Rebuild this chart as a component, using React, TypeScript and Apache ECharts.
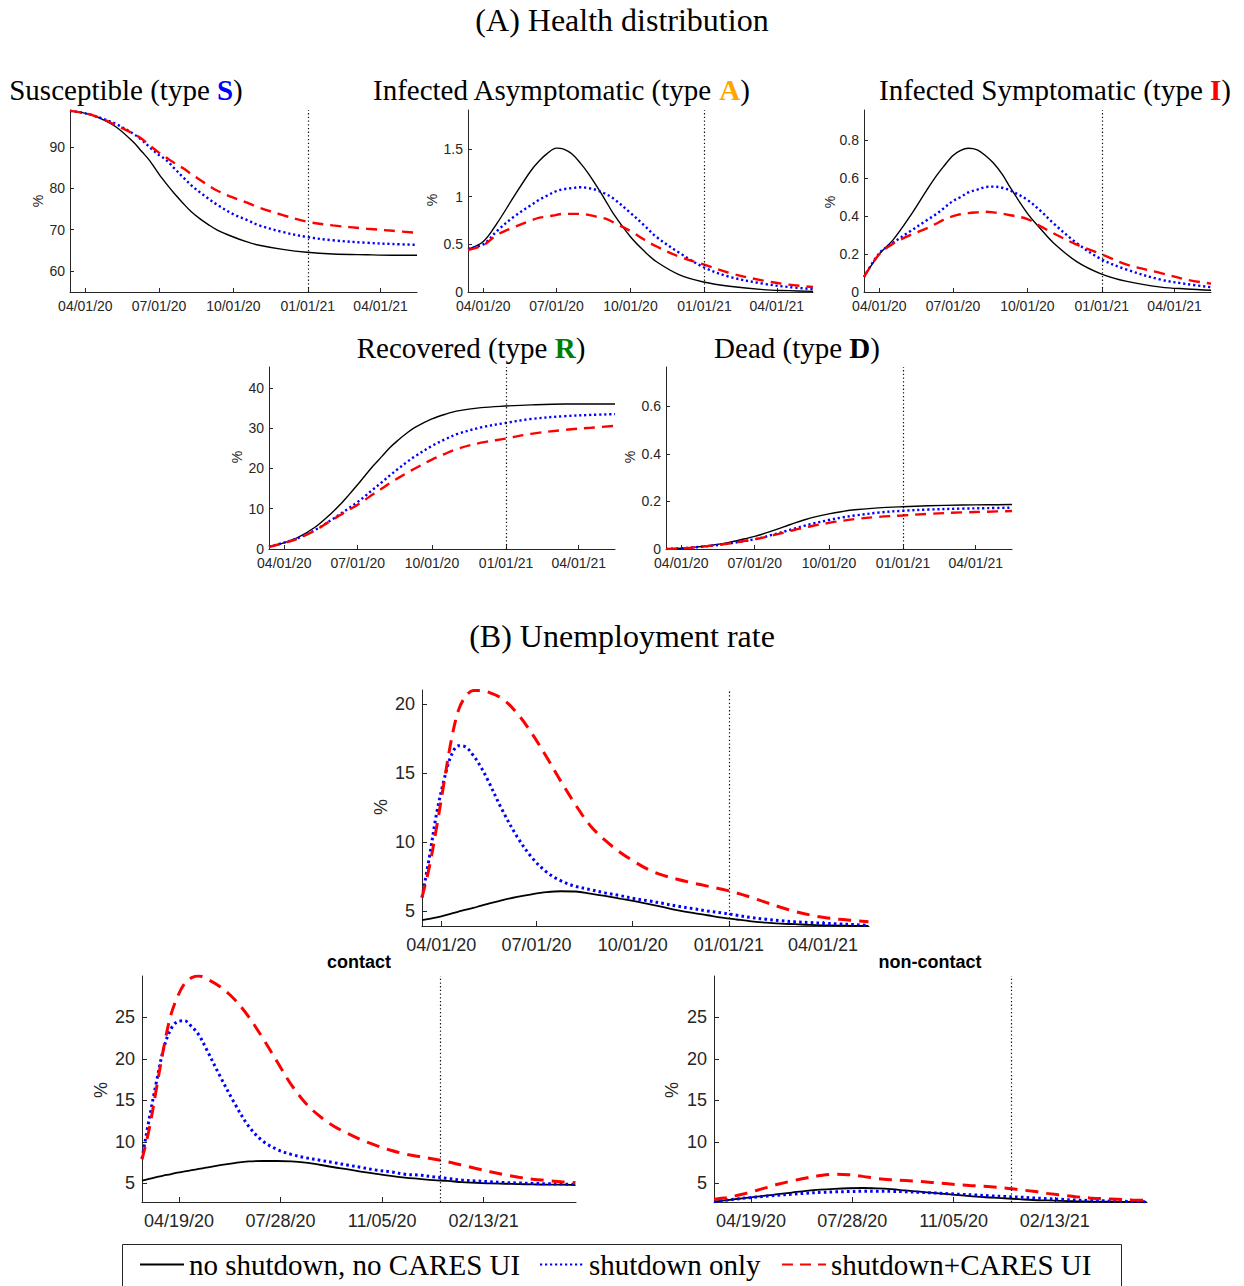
import React, { useEffect, useRef } from "react";
import * as echarts from "echarts";

// ---------- DATA ----------
const SERIES_NAMES = ["no shutdown, no CARES UI", "shutdown only", "shutdown+CARES UI"];

// days relative to 04/01/20
const HEALTH_DAYS = [-19, 0, 17, 38, 59, 70, 79, 91, 100, 110, 121, 131, 141, 152, 162, 183, 200, 215, 244, 274, 306, 348, 380, 410];

const S_BASE = [98.7, 98.1, 97.0, 94.8, 91.2, 88.8, 86.8, 83.4, 81.1, 78.7, 76.3, 74.3, 72.7, 71.2, 70.0, 68.2, 67.0, 66.2, 65.2, 64.5, 64.1, 63.9, 63.8, 63.8];
const S_SHUT = [98.7, 98.1, 97.1, 95.5, 93.2, 91.6, 90.0, 88.0, 86.8, 84.8, 82.6, 80.7, 79.1, 77.5, 76.1, 73.7, 72.3, 71.0, 69.4, 68.2, 67.4, 66.8, 66.5, 66.3];
const S_CARES = [98.7, 98.1, 97.1, 95.2, 93.2, 91.9, 90.4, 88.6, 87.4, 86.1, 84.8, 83.4, 82.1, 80.7, 79.5, 77.7, 76.5, 75.3, 73.5, 71.9, 71.0, 70.2, 69.7, 69.2];

const A_BASE = [0.45, 0.53, 0.72, 1.0, 1.27, 1.38, 1.45, 1.51, 1.5, 1.45, 1.35, 1.24, 1.11, 0.96, 0.82, 0.58, 0.43, 0.32, 0.18, 0.105, 0.06, 0.025, 0.014, 0.007];
const A_SHUT = [0.455, 0.5, 0.64, 0.79, 0.91, 0.97, 1.01, 1.06, 1.08, 1.09, 1.1, 1.09, 1.07, 1.03, 0.98, 0.83, 0.7, 0.58, 0.41, 0.26, 0.16, 0.087, 0.052, 0.03];
const A_CARES = [0.44, 0.49, 0.6, 0.68, 0.75, 0.78, 0.79, 0.81, 0.82, 0.82, 0.82, 0.81, 0.79, 0.77, 0.73, 0.64, 0.55, 0.48, 0.37, 0.29, 0.2, 0.12, 0.077, 0.052];

const I_BASE = [0.079, 0.2, 0.275, 0.4, 0.54, 0.61, 0.66, 0.72, 0.746, 0.758, 0.75, 0.72, 0.68, 0.62, 0.55, 0.415, 0.33, 0.26, 0.16, 0.096, 0.056, 0.026, 0.016, 0.009];
const I_SHUT = [0.079, 0.205, 0.26, 0.32, 0.38, 0.41, 0.44, 0.48, 0.5, 0.525, 0.54, 0.553, 0.556, 0.55, 0.535, 0.486, 0.425, 0.363, 0.258, 0.174, 0.118, 0.065, 0.042, 0.025];
const I_CARES = [0.079, 0.2, 0.255, 0.3, 0.337, 0.36, 0.38, 0.4, 0.41, 0.416, 0.42, 0.423, 0.42, 0.413, 0.405, 0.385, 0.345, 0.31, 0.25, 0.2, 0.144, 0.1, 0.065, 0.044];

const R_BASE = [0.6, 1.6, 2.9, 5.4, 9.0, 11.2, 13.2, 16.0, 18.2, 20.6, 23.0, 25.2, 27.0, 28.8, 30.2, 32.3, 33.5, 34.3, 35.1, 35.5, 35.8, 36.0, 36.0, 36.0];
const R_SHUT = [0.6, 1.6, 2.7, 4.7, 7.3, 8.8, 10.0, 11.7, 13.1, 14.8, 16.6, 18.3, 19.9, 21.6, 23.0, 25.6, 27.3, 28.6, 30.2, 31.3, 32.3, 33.0, 33.3, 33.5];
const R_CARES = [0.5, 1.5, 2.6, 4.6, 7.2, 8.5, 9.6, 11.0, 12.2, 13.6, 15.0, 16.4, 17.6, 18.9, 20.0, 22.2, 23.7, 24.9, 26.4, 27.4, 28.6, 29.6, 30.1, 30.6];

const D_BASE = [0.0, 0.003, 0.008, 0.016, 0.028, 0.036, 0.043, 0.053, 0.062, 0.073, 0.086, 0.098, 0.11, 0.122, 0.132, 0.148, 0.158, 0.165, 0.173, 0.178, 0.182, 0.185, 0.186, 0.187];
const D_SHUT = [0.0, 0.003, 0.007, 0.014, 0.023, 0.029, 0.034, 0.041, 0.048, 0.057, 0.067, 0.077, 0.087, 0.097, 0.106, 0.122, 0.133, 0.141, 0.153, 0.161, 0.166, 0.17, 0.172, 0.174];
const D_CARES = [0.0, 0.003, 0.007, 0.014, 0.023, 0.029, 0.034, 0.041, 0.047, 0.055, 0.064, 0.072, 0.081, 0.089, 0.097, 0.11, 0.119, 0.126, 0.135, 0.141, 0.148, 0.154, 0.157, 0.16];

const UNEMP_DAYS = [-18.5, -11.5, -4.5, 2.5, 9.5, 16.5, 23.5, 30.5, 37.5, 44.5, 58.5, 72.5, 86.5, 100.5, 114.5, 128.5, 142.5, 156.5, 170.5, 184.5, 198.5, 212.5, 226.5, 240.5, 254.5, 268.5, 282.5, 296.5, 310.5, 324.5, 338.5, 352.5, 366.5, 380.5, 394.5, 408.5];

const U_BASE = [4.35, 4.44, 4.56, 4.69, 4.83, 4.98, 5.12, 5.24, 5.39, 5.53, 5.8, 6.04, 6.23, 6.38, 6.45, 6.43, 6.28, 6.11, 5.92, 5.73, 5.51, 5.29, 5.07, 4.88, 4.71, 4.54, 4.4, 4.27, 4.18, 4.1, 4.06, 4.01, 3.98, 3.96, 3.94, 3.94];
const U_SHUT = [6.0, 8.9, 12.1, 14.5, 16.3, 17.0, 16.9, 16.3, 15.5, 14.5, 12.3, 10.4, 8.9, 7.85, 7.2, 6.8, 6.57, 6.33, 6.14, 5.92, 5.75, 5.56, 5.36, 5.19, 5.02, 4.88, 4.71, 4.54, 4.42, 4.32, 4.23, 4.18, 4.13, 4.08, 4.03, 3.98];
const U_CARES = [6.0, 8.2, 11.1, 14.3, 17.4, 19.6, 20.6, 21.0, 21.0, 20.9, 20.4, 19.35, 17.9, 16.2, 14.4, 12.7, 11.2, 10.15, 9.3, 8.6, 8.0, 7.6, 7.3, 7.05, 6.82, 6.6, 6.33, 6.0, 5.64, 5.29, 4.98, 4.73, 4.54, 4.42, 4.33, 4.23];

const C_BASE = [5.35, 5.55, 5.75, 5.95, 6.1, 6.3, 6.45, 6.6, 6.75, 6.9, 7.2, 7.45, 7.65, 7.7, 7.7, 7.65, 7.5, 7.25, 6.95, 6.7, 6.4, 6.15, 5.9, 5.7, 5.55, 5.4, 5.3, 5.15, 5.08, 5.0, 4.96, 4.92, 4.88, 4.85, 4.85, 4.8];
const C_SHUT = [8.0, 12.7, 17.1, 21.1, 23.5, 24.5, 24.6, 23.9, 22.9, 21.3, 17.9, 14.7, 11.9, 10.1, 9.1, 8.5, 8.1, 7.8, 7.5, 7.2, 6.9, 6.6, 6.4, 6.1, 6.0, 5.8, 5.6, 5.4, 5.3, 5.2, 5.1, 5.05, 5.0, 4.96, 4.92, 4.9];
const C_CARES = [7.9, 11.5, 16.3, 21.1, 25.1, 27.5, 29.1, 29.8, 30.0, 29.7, 28.7, 27.2, 25.1, 22.5, 19.7, 16.9, 14.7, 13.1, 11.9, 11.0, 10.2, 9.55, 9.0, 8.55, 8.25, 7.95, 7.6, 7.2, 6.8, 6.4, 6.05, 5.75, 5.5, 5.35, 5.2, 5.1];

const N_BASE = [2.8, 2.9, 3.0, 3.1, 3.2, 3.3, 3.4, 3.5, 3.6, 3.7, 3.9, 4.1, 4.25, 4.35, 4.42, 4.45, 4.4, 4.3, 4.15, 4.0, 3.85, 3.7, 3.55, 3.4, 3.3, 3.2, 3.1, 3.0, 2.95, 2.9, 2.85, 2.82, 2.8, 2.78, 2.77, 2.76];
const N_SHUT = [2.8, 2.9, 3.0, 3.1, 3.2, 3.28, 3.36, 3.44, 3.5, 3.58, 3.7, 3.82, 3.92, 3.98, 4.02, 4.05, 4.06, 4.04, 4.0, 3.93, 3.85, 3.76, 3.68, 3.6, 3.5, 3.42, 3.35, 3.25, 3.16, 3.08, 3.0, 2.94, 2.9, 2.86, 2.82, 2.8];
const N_CARES = [3.1, 3.2, 3.3, 3.5, 3.7, 3.9, 4.15, 4.4, 4.65, 4.9, 5.3, 5.65, 5.95, 6.1, 6.05, 5.85, 5.6, 5.45, 5.35, 5.25, 5.1, 4.95, 4.8, 4.7, 4.6, 4.45, 4.25, 4.05, 3.8, 3.6, 3.4, 3.25, 3.15, 3.1, 3.0, 2.95];

const QUARTER_TICKS = [0, 91, 183, 275, 365];
const QUARTER_LABELS = ["04/01/20", "07/01/20", "10/01/20", "01/01/21", "04/01/21"];
const HUNDRED_TICKS = [18, 118, 218, 318];
const HUNDRED_LABELS = ["04/19/20", "07/28/20", "11/05/20", "02/13/21"];
const POLICY_END_DAY = 275;

// ---------- STYLE / LAYOUT ----------
const SERIF = "'Liberation Serif', 'Times New Roman', serif";
const SANS = "'Liberation Sans', Arial, Helvetica, sans-serif";
const AXIS_COLOR = "#262626";
const TITLE_SIZE = 29;
const HEADING_SIZE = 32;

const PANELS = [
  { grid: { left: 70, top: 110, width: 347, height: 182 }, days: HEALTH_DAYS, xmin: -19, xmax: 410, ymin: 54.9, ymax: 98.9, yticks: [60, 70, 80, 90], xticks: QUARTER_TICKS, xlabels: QUARTER_LABELS, data: [S_BASE, S_SHUT, S_CARES], big: false, pct: [38, 201] },
  { grid: { left: 468, top: 110, width: 345, height: 182 }, days: HEALTH_DAYS, xmin: -19, xmax: 410, ymin: 0, ymax: 1.91, yticks: [0, 0.5, 1, 1.5], xticks: QUARTER_TICKS, xlabels: QUARTER_LABELS, data: [A_BASE, A_SHUT, A_CARES], big: false, pct: [432, 200] },
  { grid: { left: 864, top: 110, width: 347, height: 182 }, days: HEALTH_DAYS, xmin: -19, xmax: 410, ymin: 0, ymax: 0.96, yticks: [0, 0.2, 0.4, 0.6, 0.8], xticks: QUARTER_TICKS, xlabels: QUARTER_LABELS, data: [I_BASE, I_SHUT, I_CARES], big: false, pct: [830, 202] },
  { grid: { left: 269, top: 367, width: 346, height: 182 }, days: HEALTH_DAYS, xmin: -19, xmax: 410, ymin: 0, ymax: 45.2, yticks: [0, 10, 20, 30, 40], xticks: QUARTER_TICKS, xlabels: QUARTER_LABELS, data: [R_BASE, R_SHUT, R_CARES], big: false, pct: [237, 457] },
  { grid: { left: 666, top: 367, width: 346, height: 182 }, days: HEALTH_DAYS, xmin: -19, xmax: 410, ymin: 0, ymax: 0.766, yticks: [0, 0.2, 0.4, 0.6], xticks: QUARTER_TICKS, xlabels: QUARTER_LABELS, data: [D_BASE, D_SHUT, D_CARES], big: false, pct: [630, 457] },
  { grid: { left: 422, top: 690, width: 447, height: 236 }, days: UNEMP_DAYS, xmin: -18.5, xmax: 409, ymin: 3.93, ymax: 21.04, yticks: [5, 10, 15, 20], xticks: QUARTER_TICKS, xlabels: QUARTER_LABELS, data: [U_BASE, U_SHUT, U_CARES], big: true, pct: [381, 807] },
  { grid: { left: 142, top: 976, width: 434, height: 226 }, days: UNEMP_DAYS, xmin: -18.5, xmax: 409, ymin: 2.76, ymax: 30, yticks: [5, 10, 15, 20, 25], xticks: HUNDRED_TICKS, xlabels: HUNDRED_LABELS, data: [C_BASE, C_SHUT, C_CARES], big: true, pct: [101, 1090] },
  { grid: { left: 714, top: 976, width: 433, height: 226 }, days: UNEMP_DAYS, xmin: -18.5, xmax: 409, ymin: 2.76, ymax: 30, yticks: [5, 10, 15, 20, 25], xticks: HUNDRED_TICKS, xlabels: HUNDRED_LABELS, data: [N_BASE, N_SHUT, N_CARES], big: true, pct: [672, 1090] },
];

function lineStyleFor(k: number, big: boolean): any {
  if (k === 0) return { color: "#000000", width: big ? 1.8 : 1.4, type: "solid" };
  if (k === 1) return { color: "#0000ff", width: big ? 3 : 2.4, type: big ? [2.6, 3.2] : [2.2, 2.8], cap: "butt" };
  return { color: "#ff0000", width: big ? 3 : 2.4, type: big ? [13, 8] : [11, 7], cap: "butt" };
}

function buildOption(): any {
  const grid: any[] = [];
  const xAxis: any[] = [];
  const yAxis: any[] = [];
  const series: any[] = [];
  const graphic: any[] = [];

  PANELS.forEach((p, i) => {
    const fs = p.big ? 18 : 14;
    grid.push({ ...p.grid, outerBoundsMode: "none", containLabel: false });
    const labelMap: Record<string, string> = {};
    p.xticks.forEach((t, j) => (labelMap[String(t)] = p.xlabels[j]));
    xAxis.push({
      type: "value",
      gridIndex: i,
      min: p.xmin,
      max: p.xmax,
      splitLine: { show: false },
      axisLine: { show: true, onZero: false, lineStyle: { color: AXIS_COLOR, width: 1 } },
      axisTick: { show: true, inside: true, length: p.big ? 5 : 4, customValues: p.xticks, lineStyle: { color: AXIS_COLOR } },
      axisLabel: {
        show: true,
        customValues: p.xticks,
        margin: p.big ? 10 : 7,
        color: AXIS_COLOR,
        fontFamily: SANS,
        fontSize: fs,
        formatter: (v: number) => labelMap[String(v)] ?? "",
      },
    });
    yAxis.push({
      type: "value",
      gridIndex: i,
      min: p.ymin,
      max: p.ymax,
      splitLine: { show: false },
      axisLine: { show: true, onZero: false, lineStyle: { color: AXIS_COLOR, width: 1 } },
      axisTick: { show: true, inside: true, length: p.big ? 5 : 4, customValues: p.yticks, lineStyle: { color: AXIS_COLOR } },
      axisLabel: { show: true, customValues: p.yticks, margin: p.big ? 7 : 5, color: AXIS_COLOR, fontFamily: SANS, fontSize: fs },
    });
    p.data.forEach((vals, k) => {
      const s: any = {
        name: SERIES_NAMES[k],
        type: "line",
        xAxisIndex: i,
        yAxisIndex: i,
        data: p.days.map((d, j) => [d, vals[j]]),
        symbol: "none",
        showSymbol: false,
        smooth: 0.35,
        lineStyle: lineStyleFor(k, p.big),
        itemStyle: { color: lineStyleFor(k, p.big).color },
        z: 2 + k,
        silent: true,
      };
      if (k === 0) {
        s.markLine = {
          silent: true,
          symbol: ["none", "none"],
          label: { show: false },
          lineStyle: { color: "#111111", width: 1.2, type: [1.3, 2.4] },
          data: [{ xAxis: POLICY_END_DAY }],
        };
      }
      series.push(s);
    });
    graphic.push({
      type: "text",
      x: p.pct[0],
      y: p.pct[1],
      rotation: Math.PI / 2,
      style: { text: "%", fontFamily: SANS, fontSize: fs, fill: AXIS_COLOR, align: "center", verticalAlign: "middle" },
    });
  });

  const titleText = (x: number, y: number, text: string, rich?: any, size = TITLE_SIZE) => ({
    type: "text",
    x,
    y,
    style: { text, fontFamily: SERIF, fontSize: size, fill: "#000", align: "center", verticalAlign: "middle", rich },
  });
  const richLetter = (color: string) => ({ fontFamily: SERIF, fontSize: TITLE_SIZE, fontWeight: "bold", fill: color });

  graphic.push(titleText(622, 20, "(A) Health distribution", undefined, HEADING_SIZE));
  graphic.push(titleText(126, 90, "Susceptible (type {s|S})", { s: richLetter("#0000ff") }));
  graphic.push(titleText(561, 90, "Infected Asymptomatic (type {a|A})", { a: richLetter("#ffa500") }));
  graphic.push(titleText(1055, 90, "Infected Symptomatic (type {i|I})", { i: richLetter("#ff0000") }));
  graphic.push(titleText(471, 348, "Recovered (type {r|R})", { r: richLetter("#008000") }));
  graphic.push(titleText(797, 348, "Dead (type {d|D})", { d: richLetter("#000000") }));
  graphic.push(titleText(622, 636, "(B) Unemployment rate", undefined, HEADING_SIZE));
  graphic.push({ type: "text", x: 359, y: 962, style: { text: "contact", fontFamily: SANS, fontSize: 18, fontWeight: "bold", fill: "#000", align: "center", verticalAlign: "middle" } });
  graphic.push({ type: "text", x: 930, y: 962, style: { text: "non-contact", fontFamily: SANS, fontSize: 18, fontWeight: "bold", fill: "#000", align: "center", verticalAlign: "middle" } });
  graphic.push({ type: "rect", z: 0, shape: { x: 122.5, y: 1244.5, width: 999, height: 60 }, style: { fill: "none", stroke: AXIS_COLOR, lineWidth: 1 } });

  const legendLefts = [139, 539, 781];
  const legend = SERIES_NAMES.map((n, i) => ({
    data: [n],
    left: legendLefts[i],
    top: 1250,
    padding: 0,
    itemWidth: 44,
    itemHeight: 14,
    selectedMode: false,
    itemStyle: { opacity: 0, borderWidth: 0 },
    textStyle: { fontFamily: SERIF, fontSize: TITLE_SIZE, color: "#000" },
  }));

  return { animation: false, backgroundColor: "#ffffff", grid, xAxis, yAxis, series, graphic, legend };
}

export default function App() {
  const ref = useRef<HTMLDivElement>(null);
  useEffect(() => {
    if (!ref.current) return;
    const chart = echarts.init(ref.current, null, { renderer: "svg" });
    chart.setOption(buildOption());
    return () => chart.dispose();
  }, []);
  return <div ref={ref} style={{ position: "absolute", left: 0, top: 0, width: 1244, height: 1286, background: "#fff" }} />;
}
